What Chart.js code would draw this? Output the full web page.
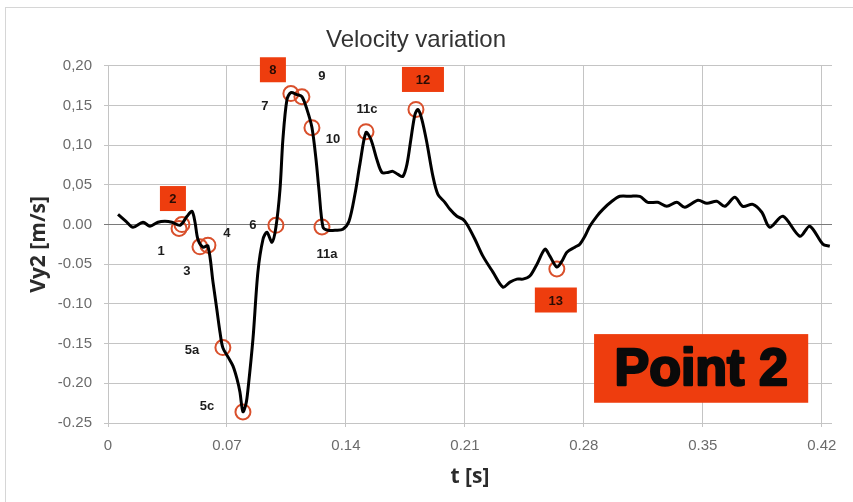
<!DOCTYPE html>
<html>
<head>
<meta charset="utf-8">
<script src="https://cdn.jsdelivr.net/npm/chart.js@4/dist/chart.umd.min.js"></script>
<style>
  html, body { margin: 0; padding: 0; background: #fff; }
  canvas { display: block; }
</style>
</head>
<body>
<canvas id="chart" width="853" height="502"></canvas>
<script>
// Curve samples
const tValues = [
  0.0059, 0.0106, 0.0147, 0.0206, 0.0247, 0.0294, 0.0335, 0.0376, 0.0424, 0.0465,
  0.0494, 0.0512, 0.0529, 0.0559, 0.0588, 0.0618, 0.0641, 0.0659, 0.0676, 0.0706,
  0.0735, 0.0759, 0.0776, 0.0794, 0.0812, 0.0824, 0.0853, 0.0882, 0.0912, 0.0935,
  0.0965, 0.0988, 0.1012, 0.1029, 0.1053, 0.1076, 0.1112, 0.1141, 0.1171, 0.1200,
  0.1224, 0.1241, 0.1265, 0.1294, 0.1341, 0.1382, 0.1418, 0.1453, 0.1482, 0.1518,
  0.1547, 0.1582, 0.1612, 0.1647, 0.1676, 0.1706, 0.1735, 0.1759, 0.1782, 0.1806,
  0.1824, 0.1847, 0.1876, 0.1912, 0.1941, 0.1982, 0.2012, 0.2053, 0.2088, 0.2112,
  0.2159, 0.2206, 0.2265, 0.2324, 0.2365, 0.2406, 0.2441, 0.2482, 0.2524, 0.2571,
  0.2600, 0.2641, 0.2671, 0.2700, 0.2747, 0.2776, 0.2806, 0.2835, 0.2876, 0.2912,
  0.2965, 0.3012, 0.3071, 0.3129, 0.3176, 0.3235, 0.3288, 0.3347, 0.3394, 0.3471,
  0.3524, 0.3582, 0.3629, 0.3688, 0.3735, 0.3794, 0.3847, 0.3894, 0.3971, 0.4071,
  0.4129, 0.4206, 0.4247
];
const vValues = [
  0.0129, 0.0041, -0.0034, 0.0029, -0.0021, 0.0029, 0.0041, 0.0029, -0.0009, 0.0104,
  0.0167, 0.0029, -0.0185, -0.0285, -0.0270, -0.0728, -0.1080, -0.1357, -0.1554, -0.1667,
  -0.1780, -0.1944, -0.2107, -0.2358, -0.2258, -0.2070, -0.1441, -0.0599, -0.0185, -0.0097,
  -0.0222, -0.0034, 0.0443, 0.1071, 0.1574, 0.1662, 0.1637, 0.1612, 0.1448, 0.1222,
  0.0820, 0.0443, -0.0034, -0.0072, -0.0072, -0.0059, 0.0041, 0.0381, 0.0758, 0.1160,
  0.1072, 0.0820, 0.0657, 0.0657, 0.0670, 0.0632, 0.0607, 0.0758, 0.1072, 0.1386,
  0.1449, 0.1323, 0.1034, 0.0607, 0.0381, 0.0280, 0.0192, 0.0104, 0.0067, 0.0004,
  -0.0185, -0.0398, -0.0599, -0.0788, -0.0725, -0.0687, -0.0687, -0.0649, -0.0499, -0.0310,
  -0.0398, -0.0536, -0.0461, -0.0348, -0.0285, -0.0247, -0.0147, -0.0021, 0.0104, 0.0192,
  0.0293, 0.0356, 0.0356, 0.0356, 0.0280, 0.0280, 0.0230, 0.0280, 0.0217, 0.0305,
  0.0268, 0.0293, 0.0230, 0.0343, 0.0230, 0.0255, 0.0155, -0.0034, 0.0104, -0.0147,
  -0.0021, -0.0247, -0.0273
];

// Circled events
const markerNames = ['1', '2', '3', '4', '5a', '5c', '6', '7', '9', '10', '11a', '11c', '12', '13'];
const markerT = [0.0418, 0.0435, 0.0541, 0.0588, 0.0676, 0.0794, 0.0988, 0.1076, 0.1141, 0.1200, 0.1259, 0.1518, 0.1812, 0.2641];
const markerV = [-0.005, 0.000, -0.028, -0.026, -0.155, -0.236, -0.001, 0.165, 0.161, 0.122, -0.003, 0.117, 0.145, -0.056];

// Axis ticks
const xTicks = [0, 0.07, 0.14, 0.21, 0.28, 0.35, 0.42];
const xTickLabels = ['0', '0.07', '0.14', '0.21', '0.28', '0.35', '0.42'];
const yTicks = [0.20, 0.15, 0.10, 0.05, 0.00, -0.05, -0.10, -0.15, -0.20, -0.25];
const yTickLabels = ['0,20', '0,15', '0,10', '0,05', '0.00', '-0.05', '-0.10', '-0.15', '-0.20', '-0.25'];

// label placement in px relative to its circle; boxed ones get the red tag
const labelOffsets = {
  '1': [-18, 23], '2': [-9, -26], '3': [-13, 25], '4': [19, -12],
  '5a': [-31, 3], '5c': [-36, -5], '6': [-23, 0], '7': [-26, 13],
  '9': [20, -20], '10': [21, 12], '11a': [5, 27], '11c': [1, -22],
  '12': [7, -30], '13': [-1, 31]
};
const boxedLabels = ['2', '12', '13'];
const RED = '#EE3D0E';
const FONT = "'Liberation Sans', Arial, sans-serif";

const annotations = {
  id: 'annotations',
  beforeDraw(chart) {
    const ctx = chart.ctx;
    ctx.save();
    ctx.fillStyle = '#fff';
    ctx.fillRect(0, 0, chart.width, chart.height);
    ctx.strokeStyle = '#d6d6d6';
    ctx.lineWidth = 1;
    ctx.strokeRect(5.5, 7.5, chart.width + 20, chart.height + 20);
    ctx.restore();
  },
  afterDatasetsDraw(chart) {
    const ctx = chart.ctx;
    const xs = chart.scales.x, ys = chart.scales.y;

    const tag = (text, cx, cy) => {
      const w = text.length > 1 ? 42 : 26;
      ctx.fillStyle = RED;
      ctx.fillRect(cx - w / 2, cy - 12.5, w, 25);
      ctx.fillStyle = '#2a0c04';
      ctx.font = 'bold 13px ' + FONT;
      ctx.fillText(text, cx, cy + 1);
    };

    ctx.save();
    ctx.textAlign = 'center';
    ctx.textBaseline = 'middle';
    markerNames.forEach((name, i) => {
      const px = xs.getPixelForValue(markerT[i]);
      const py = ys.getPixelForValue(markerV[i]);
      const [dx, dy] = labelOffsets[name];
      if (boxedLabels.includes(name)) {
        tag(name, px + dx, py + dy);
      } else {
        ctx.fillStyle = '#1c1c1c';
        ctx.font = 'bold 13px ' + FONT;
        ctx.fillText(name, px + dx, py + dy);
      }
    });

    // "8" sits above the 7/9 pair
    const i9 = markerNames.indexOf('9');
    tag('8', xs.getPixelForValue(markerT[i9]) - 29, ys.getPixelForValue(markerV[i9]) - 27);

    // Big "Point 2" tag
    const l = xs.getPixelForValue(0.286), r = xs.getPixelForValue(0.412);
    const t = ys.getPixelForValue(-0.138), b = ys.getPixelForValue(-0.2245);
    ctx.fillStyle = RED;
    ctx.fillRect(l, t, r - l, b - t);
    ctx.fillStyle = '#0a0a0a';
    ctx.strokeStyle = '#0a0a0a';
    ctx.lineWidth = 2.5;
    ctx.lineJoin = 'round';
    ctx.font = 'bold 52px ' + FONT;
    ctx.fillText('Point 2', (l + r) / 2, (t + b) / 2 + 2);
    ctx.strokeText('Point 2', (l + r) / 2, (t + b) / 2 + 2);
    ctx.restore();
  }
};

new Chart(document.getElementById('chart'), {
  type: 'line',
  data: {
    datasets: [
      {
        data: tValues.map((t, i) => ({ x: t, y: vValues[i] })),
        borderColor: '#000',
        borderWidth: 3,
        pointRadius: 0,
        tension: 0.3,
        fill: false
      },
      {
        data: markerT.map((t, i) => ({ x: t, y: markerV[i] })),
        showLine: false,
        pointStyle: 'circle',
        pointRadius: 7.5,
        pointBorderWidth: 2,
        pointBorderColor: '#D9502C',
        pointBackgroundColor: 'rgba(0,0,0,0)'
      }
    ]
  },
  options: {
    responsive: false,
    animation: false,
    layout: { padding: { top: 0, right: 21, bottom: 0, left: 0 } },
    plugins: {
      legend: { display: false },
      tooltip: { enabled: false },
      title: {
        display: true,
        text: 'Velocity variation',
        color: '#333',
        font: { family: FONT, size: 24, weight: 'normal' },
        padding: { top: 26, bottom: 11 }
      }
    },
    scales: {
      x: {
        type: 'linear',
        min: 0,
        max: 0.426,
        afterBuildTicks: axis => { axis.ticks = xTicks.map(v => ({ value: v })); },
        afterFit: scale => { scale.height = 79; },
        ticks: {
          color: '#6b6b6b',
          font: { family: FONT, size: 15 },
          padding: 10,
          maxRotation: 0,
          callback: (v, i) => xTickLabels[i]
        },
        grid: { color: '#c4c4c4', tickLength: 4 },
        border: { display: false },
        title: {
          display: true,
          text: 't [s]',
          color: '#2b2b2b',
          font: { family: "'Open Sans', sans-serif", size: 21, weight: 'bold' },
          padding: { top: 0, bottom: 12 }
        }
      },
      y: {
        min: -0.25,
        max: 0.20,
        afterBuildTicks: axis => { axis.ticks = yTicks.map(v => ({ value: v })); },
        afterFit: scale => { scale.width = 108; },
        ticks: {
          color: '#6b6b6b',
          font: { family: FONT, size: 15 },
          padding: 12,
          callback: v => yTickLabels[yTicks.findIndex(y => Math.abs(y - v) < 1e-9)]
        },
        grid: {
          color: c => (c.tick && Math.abs(c.tick.value) < 1e-9 ? '#7a7a7a' : '#c4c4c4'),
          tickLength: 4
        },
        border: { display: false },
        title: {
          display: true,
          text: 'Vy2 [m/s]',
          color: '#2b2b2b',
          font: { family: "'Open Sans', sans-serif", size: 21, weight: 'bold' },
          padding: { top: 26, bottom: 0 }
        }
      }
    }
  },
  plugins: [annotations]
});
</script>
</body>
</html>
